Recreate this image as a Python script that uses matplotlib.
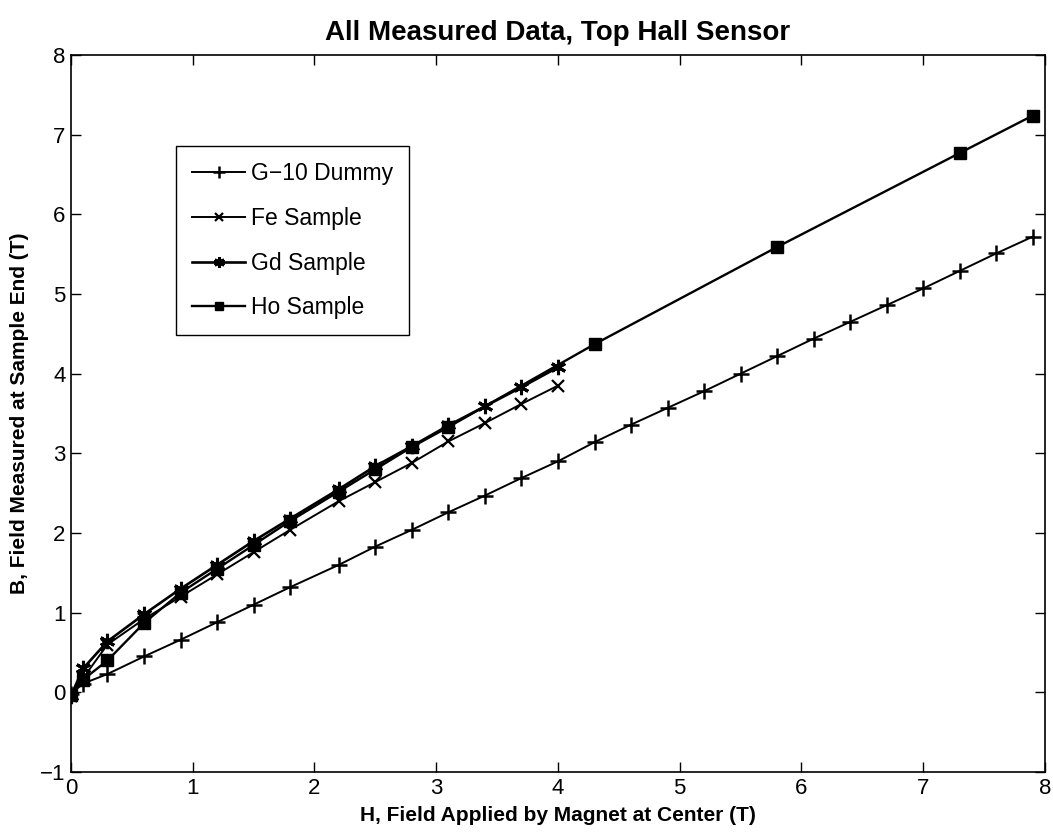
import matplotlib
matplotlib.use("Agg")
import matplotlib.pyplot as plt

plt.rcParams['font.family'] = ['Liberation Sans', 'DejaVu Sans']

# ---- data ----
g10_x = [0, 0.1, 0.3, 0.6, 0.9, 1.2, 1.5, 1.8, 2.2, 2.5, 2.8, 3.1, 3.4, 3.7, 4.0,
         4.3, 4.6, 4.9, 5.2, 5.5, 5.8, 6.1, 6.4, 6.7, 7.0, 7.3, 7.6, 7.9]
g10_y = [-0.02, 0.11, 0.23, 0.45, 0.66, 0.88, 1.10, 1.32, 1.60, 1.83, 2.04, 2.26, 2.47, 2.69, 2.90,
         3.14, 3.36, 3.57, 3.78, 4.00, 4.22, 4.44, 4.65, 4.86, 5.07, 5.29, 5.51, 5.72]

fe_x = [0, 0.1, 0.3, 0.6, 0.9, 1.2, 1.5, 1.8, 2.2, 2.5, 2.8, 3.1, 3.4, 3.7, 4.0]
fe_y = [-0.04, 0.18, 0.60, 0.92, 1.20, 1.48, 1.76, 2.04, 2.40, 2.64, 2.88, 3.15, 3.38, 3.62, 3.85]

gd_x = [0, 0.1, 0.3, 0.6, 0.9, 1.2, 1.5, 1.8, 2.2, 2.5, 2.8, 3.1, 3.4, 3.7, 4.0]
gd_y = [-0.04, 0.30, 0.64, 0.98, 1.30, 1.60, 1.90, 2.18, 2.55, 2.84, 3.09, 3.35, 3.59, 3.83, 4.08]

ho_x = [0, 0.1, 0.3, 0.6, 0.9, 1.2, 1.5, 1.8, 2.2, 2.5, 2.8, 3.1, 4.3, 5.8, 7.3, 7.9]
ho_y = [-0.03, 0.16, 0.40, 0.87, 1.25, 1.55, 1.85, 2.15, 2.52, 2.80, 3.08, 3.33, 4.37, 5.59, 6.77, 7.24]

labels = ["G\u221210 Dummy", "Fe Sample", "Gd Sample", "Ho Sample"]
x_ticks = [0, 1, 2, 3, 4, 5, 6, 7, 8]
y_ticks = [-1, 0, 1, 2, 3, 4, 5, 6, 7, 8]

fig = plt.figure(figsize=(10.53, 8.32), dpi=100)
ax = fig.add_axes([0.0674, 0.0721, 0.925, 0.8618])

ax.plot(g10_x, g10_y, color='black', lw=1.4, marker='+', ms=12, mew=1.8, label=labels[0])
ax.plot(fe_x, fe_y, color='black', lw=1.4, marker='x', ms=8, mew=1.6, label=labels[1])
ax.plot(gd_x, gd_y, color='black', lw=1.9, marker=(6, 2, 0), ms=11, mew=2.2, label=labels[2])
ax.plot(ho_x, ho_y, color='black', lw=1.7, marker='s', ms=8, mew=1, label=labels[3])

ax.set_xlim(0, 8)
ax.set_ylim(-1, 8)
ax.set_xticks(x_ticks)
ax.set_yticks(y_ticks)
ax.tick_params(direction='in', length=7, width=1, top=True, right=True,
               labelsize=16, pad=4)
for s in ax.spines.values():
    s.set_linewidth(1.2)

ax.set_title("All Measured Data, Top Hall Sensor", fontsize=20, fontweight='bold', pad=11)
ax.set_xlabel("H, Field Applied by Magnet at Center (T)", fontsize=15, fontweight='bold', labelpad=5)
ax.set_ylabel("B, Field Measured at Sample End (T)", fontsize=15, fontweight='bold', labelpad=8)

leg = ax.legend(loc='upper left', bbox_to_anchor=(0.108, 0.873), fontsize=16.5,
                frameon=True, fancybox=False, edgecolor='black', framealpha=1,
                handlelength=2.3, handletextpad=0.25, borderpad=0.7,
                labelspacing=0.95, borderaxespad=0, markerscale=0.7)
leg.get_frame().set_linewidth(1.0)

fig.savefig("out.png", dpi=100)
